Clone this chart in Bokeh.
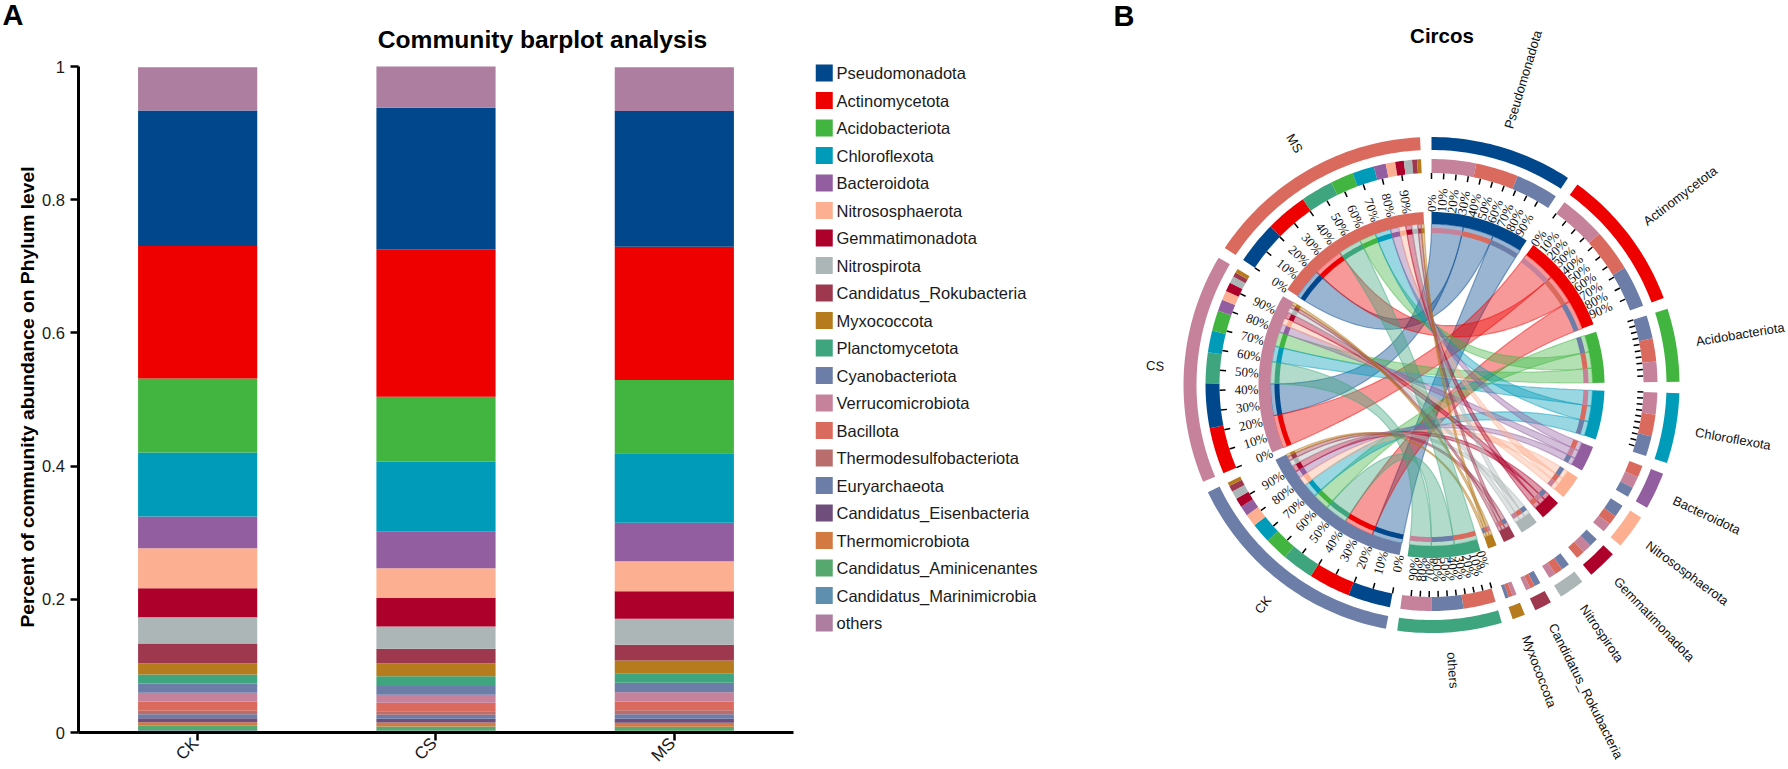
import math
from bokeh.embed import file_html
from bokeh.resources import INLINE
from bokeh.core.properties import value
from bokeh.layouts import row
from bokeh.models import ColumnDataSource, FixedTicker, Label, Range1d
from bokeh.plotting import figure

phyla = ["Pseudomonadota", "Actinomycetota", "Acidobacteriota", "Chloroflexota",
         "Bacteroidota", "Nitrososphaerota", "Gemmatimonadota", "Nitrospirota",
         "Candidatus_Rokubacteria", "Myxococcota", "Planctomycetota", "Cyanobacteriota",
         "Verrucomicrobiota", "Bacillota", "Thermodesulfobacteriota", "Euryarchaeota",
         "Candidatus_Eisenbacteria", "Thermomicrobiota", "Candidatus_Aminicenantes",
         "Candidatus_Marinimicrobia", "others"]
colors = ["#00478C", "#EE0000", "#42B540", "#009BB8", "#925E9F", "#FDAF91", "#AD002A",
          "#ADB6B6", "#9E384F", "#B57B1D", "#3FA57E", "#6C7DA8", "#C6829B", "#DA6A5E",
          "#B96D6D", "#6C7DA8", "#6F4E7C", "#D37A42", "#56A86E", "#5E8FAE", "#AD7EA0"]
samples = ["CK", "CS", "MS"]
CK = [.2035, .199, .111, .096, .048, .060, .0435, .0394, .0296, .017,
      .0134, .014, .0131, .014, .005, .006, .006, .0055, .0065, .0035, .065]
CS = [.2124, .2216, .0975, .1045, .0553, .0445, .0432, .0334, .0216, .0194,
      .0146, .0134, .0121, .0125, .0055, .006, .0055, .006, .006, .003, .062]
MS = [.204, .2, .11, .1044, .0576, .0453, .0412, .039, .0236, .019,
      .0145, .014, .0141, .013, .006, .007, .006, .006, .006, .0025, .0658]
y_ticks = [0, .2, .4, .6, .8, 1]
y_tick_labels = ["0", "0.2", "0.4", "0.6", "0.8", "1"]
SANS = "Liberation Sans"
SERIF = "Liberation Serif"

# ---------- panel A
positions = list(range(len(samples)))
table = {"x": positions}
for i, name in enumerate(phyla):
    table[name] = [CK[i], CS[i], MS[i]]
source = ColumnDataSource(table)

A_W, A_H = 1060, 769
FL, FB = 2, 767           # frame left / bottom on the page (frame top is the page top)
AX_X = 78                 # page column of the y axis
Y0, Y1 = 732, 66          # page rows of the values 0 and 1
CAT_PX = 238.33           # width of one sample's slot
UNIT_PX = Y0 - Y1
def dx(X):
    return (X - AX_X) / CAT_PX - 0.5
def dy(Y):
    return (Y0 - Y) / UNIT_PX
a = figure(x_range=Range1d(dx(FL), dx(A_W)), y_range=Range1d(dy(FB), dy(0)),
           width=A_W, height=A_H, output_backend="svg", toolbar_location=None,
           min_border_left=FL, min_border_top=0, min_border_bottom=A_H - FB,
           min_border_right=0, outline_line_color=None, frame_align=False)
a.xgrid.visible = False
a.ygrid.visible = False
order = phyla[:-1][::-1] + ["others"]
a.vbar_stack(order, x="x", width=0.5, source=source,
             color=[colors[phyla.index(n)] for n in order], line_color=None)

# legend
LEG_STEP = 27.5
leg_y = [dy(72.5 + LEG_STEP * i) for i in range(len(phyla))]
a.rect([dx(823.75)] * len(phyla), leg_y, width=17, height=17, width_units="screen",
       height_units="screen", fill_color=colors, line_color=None)
a.text([dx(836)] * len(phyla), leg_y, text=phyla, text_baseline="middle",
       text_font=value(SANS), text_font_size="16.5px", text_color="#1a1a1a")

for ax in (a.xaxis[0], a.yaxis[0]):
    ax.axis_line_width = 3
    ax.axis_line_color = "black"
    ax.major_tick_line_width = 2.5
    ax.major_tick_line_color = "black"
    ax.minor_tick_line_color = None
    ax.major_label_text_font_size = "1px"
    ax.major_label_standoff = 0
    ax.major_tick_out = 0
    ax.major_tick_in = -8
a.yaxis[0].fixed_location = dx(AX_X)
a.yaxis[0].bounds = (0, 1)
a.yaxis[0].ticker = FixedTicker(ticks=y_ticks)
a.yaxis[0].major_label_overrides = {t: "" for t in y_ticks}
a.xaxis[0].fixed_location = 0
a.xaxis[0].bounds = (-0.5, 2.5)
a.xaxis[0].ticker = FixedTicker(ticks=positions)
a.xaxis[0].major_label_overrides = {p: "" for p in positions}
for t, s in zip(y_ticks, y_tick_labels):
    a.add_layout(Label(x=dx(64.5), y=t, text=s, text_align="right", text_baseline="middle",
                       text_font=SANS, text_font_size="16.5px", text_color="#1a1a1a"))
a.add_layout(Label(x=dx(27), y=dy(396.5), angle=math.pi / 2,
                   text="Percent of community abundance on Phylum level",
                   text_align="center", text_baseline="middle", text_font=SANS,
                   text_font_size="19.25px", text_font_style="bold", text_color="black"))
for p, s in zip(positions, samples):
    a.add_layout(Label(x=p, y=0, x_offset=-2, y_offset=-8, angle=math.pi / 4, text=s,
                       text_align="right", text_baseline="middle", text_font=SANS,
                       text_font_size="17px", text_color="#1a1a1a"))
a.add_layout(Label(x=dx(542), y=dy(39), text="Community barplot analysis",
                   text_align="center", text_baseline="middle",
                   text_font=SANS, text_font_size="24.6px", text_font_style="bold",
                   text_color="black"))
a.add_layout(Label(x=dx(FL), y=dy(14), text="A", text_baseline="middle",
                   text_font=SANS, text_font_size="29px", text_font_style="bold",
                   text_color="black"))

# ---------- panel B (circos)
FIG_L, FIG_W, FIG_H = A_W, 1788 - A_W, 769
CX, CY = 1431, 384.5
b = figure(x_range=Range1d(FIG_L - CX, FIG_L + FIG_W - CX),
           y_range=Range1d(CY - FIG_H, CY),
           width=FIG_W, height=FIG_H, output_backend="svg", toolbar_location=None,
           min_border=0, outline_line_color=None, frame_align=False)
b.axis.visible = False
b.grid.visible = False

n_top = 10
top_names = phyla[:n_top] + ["others"]
top_colors = colors[:n_top] + [colors[10]]
def row_vals(vals):
    return vals[:n_top] + [sum(vals[n_top:])]
matrix = {"CK": row_vals(CK), "CS": row_vals(CS), "MS": row_vals(MS)}
sample_colors = {"CK": "#6C7DA8", "CS": "#C6829B", "MS": "#DA6A5E"}

sectors = []
for j, name in enumerate(top_names):
    vals = {s: matrix[s][j] for s in samples}
    sectors.append(dict(name=name, color=top_colors[j], size=sum(vals.values()), parts=vals))
for s in samples:
    sectors.append(dict(name=s, color=sample_colors[s], size=sum(matrix[s]),
                        parts={top_names[j]: matrix[s][j] for j in range(len(top_names))}))

GAP = 2.65
total = sum(s["size"] for s in sectors)
unit = (360 - GAP * len(sectors)) / total
pos = 0.0
for s in sectors:
    s["start"] = pos
    s["end"] = pos + s["size"] * unit
    pos = s["end"] + GAP
    cur = s["start"]
    s["seg"] = {}
    for k, v in sorted(s["parts"].items(), key=lambda kv: -kv[1]):
        s["seg"][k] = (cur, cur + v * unit)
        cur += v * unit

def pt(r, deg):
    t = math.radians(deg)
    return r * math.sin(t), r * math.cos(t)

def ring(r0, r1, d0, d1):
    n = max(3, int(abs(d1 - d0)) + 2)
    ang = [d0 + (d1 - d0) * i / (n - 1) for i in range(n)]
    out = [pt(r1, d) for d in ang] + [pt(r0, d) for d in ang[::-1]]
    return [p[0] for p in out], [p[1] for p in out]

def arc(r, d0, d1):
    n = max(3, int(abs(d1 - d0)) + 2)
    return [pt(r, d0 + (d1 - d0) * i / (n - 1)) for i in range(n)]

def bez(p0, p2, n=40):
    return [((1 - t) ** 2 * p0[0] + t * t * p2[0], (1 - t) ** 2 * p0[1] + t * t * p2[1])
            for t in (i / (n - 1) for i in range(n))]

R_OUT = (235, 248)
R_MID = (212, 226)
R_IN = (161, 173)
R_THIN = (152, 157)

# ribbons
by = {s["name"]: s for s in sectors}
rx, ry, rc = [], [], []
for name, col in zip(top_names, top_colors):
    for smp in samples:
        a0, a1 = by[name]["seg"][smp]
        b0, b1 = by[smp]["seg"][name]
        path = arc(R_IN[0], a0, a1)
        path += bez(path[-1], pt(R_IN[0], b0))
        path += arc(R_IN[0], b0, b1)
        path += bez(path[-1], pt(R_IN[0], a0))
        rx.append([p[0] for p in path])
        ry.append([p[1] for p in path])
        rc.append(col)
b.patches(rx, ry, fill_color=rc, fill_alpha=0.4, line_color=rc, line_alpha=0.45, line_width=1.2)

# percent ticks and labels
with_ticks = ["Pseudomonadota", "Actinomycetota", "Acidobacteriota", "Chloroflexota", "others"] + samples
with_labels = ["Pseudomonadota", "Actinomycetota", "others"] + samples
percents = list(range(0, 100, 10))
tx0, ty0, tx1, ty1, lx, ly, lt, la, lal = [], [], [], [], [], [], [], [], []
for s in sectors:
    if s["name"] not in with_ticks:
        continue
    for q in percents:
        d = s["start"] + (s["end"] - s["start"]) * q / 100
        x0, y0 = pt(R_MID[0], d)
        x1, y1 = pt(R_MID[0] - 6, d)
        tx0.append(x0); ty0.append(y0); tx1.append(x1); ty1.append(y1)
        if s["name"] in with_labels:
            x, y = pt(R_IN[1], d)
            lx.append(x); ly.append(y); lt.append(f"{q}%")
            right_side = d < 180
            la.append(math.radians(90 - d if right_side else 270 - d))
            lal.append("left" if right_side else "right")
b.segment(tx0, ty0, tx1, ty1, line_color="black", line_width=1.5)
b.text(lx, ly, text=lt, angle=la, text_align=lal, text_baseline="middle",
       text_font=value(SERIF), text_font_size="13px", text_color="#111111")

# rings
ox, oy, oc = [], [], []
def add(r, d0, d1, c):
    x, y = ring(r[0], r[1], d0, d1)
    ox.append(x); oy.append(y); oc.append(c)
for s in sectors:
    add(R_OUT, s["start"], s["end"], s["color"])
    add(R_IN, s["start"], s["end"], s["color"])
    for k, (d0, d1) in s["seg"].items():
        c = by[k]["color"]
        add(R_MID, d0, d1, c)
        add(R_THIN, d0, d1, c)
b.patches(ox, oy, fill_color=oc, line_color=None)

# sector labels
nx, ny, nt, na, nal = [], [], [], [], []
for s in sectors:
    mid = (s["start"] + s["end"]) / 2
    x, y = pt(268, mid)
    nx.append(x); ny.append(y); nt.append(s["name"])
    right_side = mid < 180
    na.append(math.radians(90 - mid if right_side else 270 - mid))
    nal.append("left" if right_side else "right")
b.text(nx, ny, text=nt, angle=na, text_align=nal, text_baseline="middle",
       text_font=value(SANS), text_font_size="13px", text_color="#111111")

def page_b(X, Y):
    return dict(x=X - FIG_L, y=FIG_H - Y, x_units="screen", y_units="screen")
b.add_layout(Label(**page_b(1113, 15), text="B", text_baseline="middle",
                   text_font=SANS, text_font_size="29px", text_font_style="bold",
                   text_color="black"))
b.add_layout(Label(**page_b(1441.5, 35), text="Circos",
                   text_align="center", text_baseline="middle",
                   text_font=SANS, text_font_size="20.5px", text_font_style="bold",
                   text_color="black"))

page = row(a, b, spacing=0)
open("out.html", "w").write(file_html(page, INLINE))
